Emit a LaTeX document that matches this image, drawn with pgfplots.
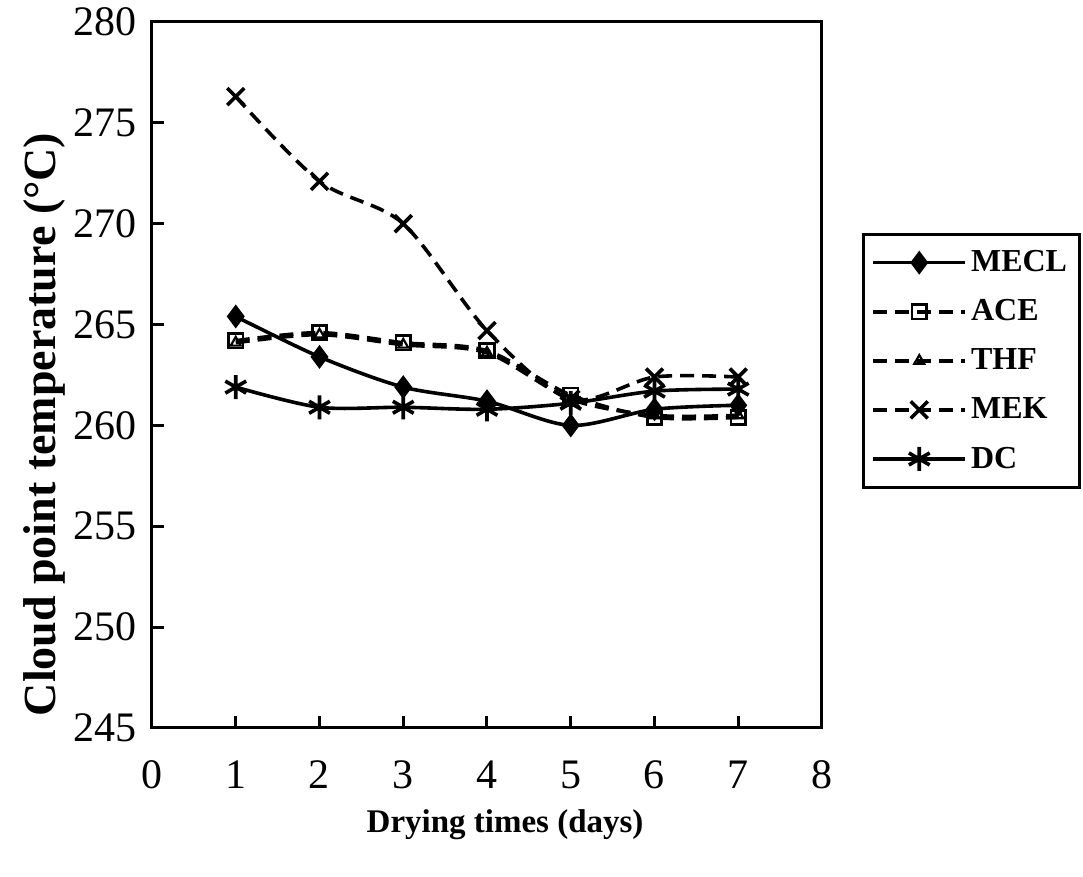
\documentclass[border=0pt]{standalone}
\usepackage{fontspec}
\setmainfont{Liberation Serif}
\usepackage{pgfplots}
\pgfplotsset{compat=1.18}
\begin{document}
\begin{tikzpicture}
\begin{axis}[
  name=ax,
  scale only axis,
  width=335pt, height=353pt,
  xmin=0, xmax=8, ymin=245, ymax=280,
  xtick={0,1,...,8}, ytick={245,250,...,280},
  xtick pos=left, ytick pos=left,
  tick align=inside,
  major tick length=6pt,
  axis line style={line width=1.5pt},
  every tick/.style={line width=1.5pt, black},
  /pgf/number format/assume math mode=true,
  ticklabel style={font=\fontsize{21}{21}\selectfont},
  xticklabel style={yshift=-13pt},
  yticklabel style={xshift=-4pt},
  xlabel={Drying times (days)},
  ylabel={Cloud point temperature (°C)},
  xlabel style={font=\bfseries\fontsize{16.5}{16.5}\selectfont, at={(axis description cs:0.527,-0.1375)}, anchor=center},
  ylabel style={font=\bfseries\fontsize{23}{23}\selectfont, at={(axis description cs:-0.16,0.43)}, anchor=center},
  legend style={at={(1.0597,0.701)}, anchor=north west, draw=black, line width=1.5pt,
    font=\bfseries\fontsize{16}{16}\selectfont, row sep=8.5pt, inner xsep=4pt, inner ysep=6pt},
  legend cell align=left,
  legend image code/.code={\draw[mark repeat=2,mark phase=2,#1] plot coordinates {(0pt,0pt) (23pt,0pt) (46pt,0pt)};},
]
\addplot[black, line width=1.8pt, smooth, tension=0.5, mark=diamond*, mark size=4.5pt, mark options={solid}]
 coordinates {(1,265.4) (2,263.4) (3,261.9) (4,261.2) (5,260.0) (6,260.8) (7,261.0)};
\addlegendentry{MECL}
\addplot[black, line width=1.8pt, dash pattern=on 7pt off 4pt, smooth, tension=0.5, mark=square, mark size=3.6pt, mark options={solid, fill=white, line width=1.4pt}]
 coordinates {(1,264.2) (2,264.6) (3,264.1) (4,263.7) (5,261.5) (6,260.4) (7,260.4)};
\addlegendentry{ACE}
\addplot[black, line width=1.8pt, dash pattern=on 7pt off 4pt, smooth, tension=0.5, mark=triangle, mark size=2.9pt, mark options={solid, line width=1.1pt}]
 coordinates {(1,264.1) (2,264.5) (3,264.0) (4,263.6) (5,261.3) (6,260.5) (7,260.5)};
\addlegendentry{THF}
\addplot[black, line width=1.8pt, dash pattern=on 7pt off 4pt, smooth, tension=0.5, mark=x, mark size=6pt, mark options={solid}]
 coordinates {(1,276.3) (2,272.1) (3,270.0) (4,264.7) (5,261.3) (6,262.4) (7,262.4)};
\addlegendentry{MEK}
\addplot[black, line width=1.8pt, smooth, tension=0.5, mark=asterisk, mark size=6pt, mark options={solid}]
 coordinates {(1,261.9) (2,260.9) (3,260.9) (4,260.8) (5,261.1) (6,261.7) (7,261.8)};
\addlegendentry{DC}
\end{axis}
\pgfresetboundingbox
\path ([shift={(-76pt,-74.5pt)}]ax.south west) rectangle ++(541.5pt,438.5pt);
\end{tikzpicture}
\end{document}
